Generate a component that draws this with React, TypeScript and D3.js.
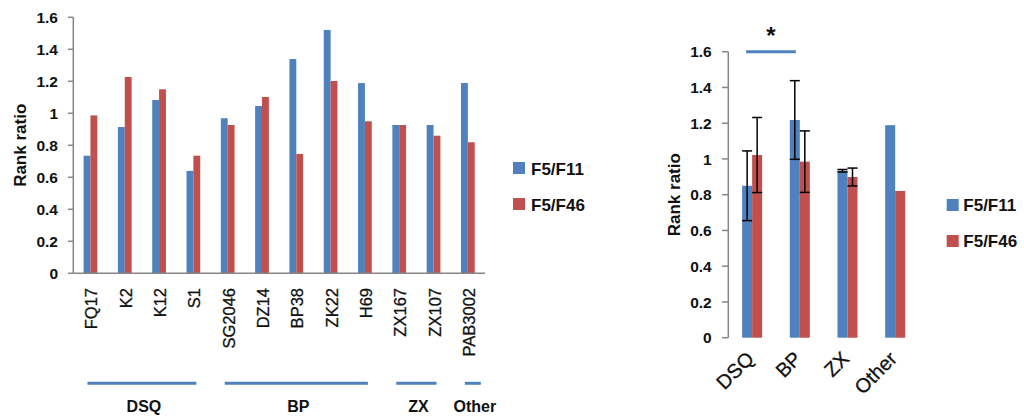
import React from "react";
import * as d3 from "d3";

const categoriesLeft = ["FQ17", "K2", "K12", "S1", "SG2046", "DZ14", "BP38", "ZK22", "H69", "ZX167", "ZX107", "PAB3002"];
const f11Left = [0.735, 0.914, 1.083, 0.64, 0.969, 1.046, 1.339, 1.521, 1.189, 0.927, 0.927, 1.189];
const f46Left = [0.987, 1.227, 1.15, 0.735, 0.927, 1.102, 0.746, 1.202, 0.95, 0.927, 0.86, 0.819];

const groupNames = ["DSQ", "BP", "ZX", "Other"];
const groupStart = [0, 4, 9, 11];
const groupEnd = [3, 8, 10, 11];

const categoriesRight = ["DSQ", "BP", "ZX", "Other"];
const f11Right = [0.85, 1.218, 0.934, 1.189];
const f11Err = [0.195, 0.22, 0.007, 0];
const f46Right = [1.022, 0.985, 0.899, 0.821];
const f46Err = [0.21, 0.172, 0.05, 0];

const yTicks = [0, 0.2, 0.4, 0.6, 0.8, 1, 1.2, 1.4, 1.6];
const seriesNames = ["F5/F11", "F5/F46"];
const sigPair = ["DSQ", "BP"];

const BLUE = "#4F81BD";
const RED = "#C0504D";
const AXIS = "#868686";
const FONT = "'Liberation Sans', Arial, sans-serif";

export default function App() {
  // Left chart scales
  const yL = d3.scaleLinear().domain([0, 1.6]).range([273.3, 17.3]);
  const xL = d3.scaleBand<string>().domain(categoriesLeft).range([73.3, 485]).paddingInner(0.6).paddingOuter(0.3);
  const xLs = d3.scaleBand<string>().domain(["a", "b"]).range([0, xL.bandwidth()]);

  // Right chart scales
  const yR = d3.scaleLinear().domain([0, 1.6]).range([337.7, 51.7]);
  const xR = d3.scaleBand<string>().domain(categoriesRight).range([728.3, 919]).paddingInner(0.58).paddingOuter(0.29);
  const xRs = d3.scaleBand<string>().domain(["a", "b"]).range([0, xR.bandwidth()]);

  const fmt = (v: number) => (v === 0 ? "0" : v === 1 ? "1" : d3.format(".1f")(v));

  const errBar = (x0: number, w: number, v: number, e: number, y: d3.ScaleLinear<number, number>, key: string) => {
    const cx = x0 + w / 2;
    return (
      <g key={key} stroke="#000" strokeWidth={1.5}>
        <line x1={cx} x2={cx} y1={y(v + e)} y2={y(v - e)} />
        <line x1={x0} x2={x0 + w} y1={y(v + e)} y2={y(v + e)} />
        <line x1={x0} x2={x0 + w} y1={y(v - e)} y2={y(v - e)} />
      </g>
    );
  };

  return (
    <svg width={1024} height={417} style={{ position: "absolute", left: 0, top: 0, background: "#fff" }} fontFamily={FONT}>
      {/* ===== Left chart ===== */}
      <g>
        <line x1={73.3} x2={73.3} y1={yL(1.6)} y2={yL(0)} stroke={AXIS} strokeWidth={1.5} />
        {yTicks.map((t) => (
          <g key={"lt" + t}>
            <line x1={68} x2={73.3} y1={yL(t)} y2={yL(t)} stroke={AXIS} strokeWidth={1.5} />
            <text x={58} y={yL(t)} dy="0.36em" textAnchor="end" fontSize={15.5} fontWeight="bold" fill="#111">
              {fmt(t)}
            </text>
          </g>
        ))}
        <text transform={`translate(26,${yL(0.8)}) rotate(-90)`} textAnchor="middle" fontSize={17} fontWeight="bold" fill="#111">
          Rank ratio
        </text>
        {categoriesLeft.map((c, i) => (
          <g key={"lb" + c}>
            <rect x={xL(c)! + xLs("a")!} y={yL(f11Left[i])} width={xLs.bandwidth()} height={yL(0) - yL(f11Left[i])} fill={BLUE} />
            <rect x={xL(c)! + xLs("b")!} y={yL(f46Left[i])} width={xLs.bandwidth()} height={yL(0) - yL(f46Left[i])} fill={RED} />
          </g>
        ))}
        <line x1={73.3} x2={485} y1={yL(0)} y2={yL(0)} stroke={AXIS} strokeWidth={1.5} />
        {categoriesLeft.map((c) => {
          const cx = xL(c)! + xL.bandwidth() / 2;
          return (
            <text key={"lx" + c} transform={`translate(${cx + 7},288) rotate(-90)`} textAnchor="end" fontSize={16.5} fill="#111" stroke="#111" strokeWidth={0.3}>
              {c}
            </text>
          );
        })}
        {groupNames.map((g, i) => {
          const x1 = xL(categoriesLeft[groupStart[i]])! + xL.bandwidth() / 2 - 3;
          const x2 = xL(categoriesLeft[groupEnd[i]])! + xL.bandwidth() / 2 + (i === 3 ? 13 : 3);
          return (
            <g key={"g" + g}>
              <line x1={x1} x2={x2} y1={383.3} y2={383.3} stroke={BLUE} strokeWidth={3} />
              <text x={(x1 + x2) / 2 + 2} y={412} textAnchor="middle" fontSize={16} fontWeight="bold" fill="#111">
                {g}
              </text>
            </g>
          );
        })}
        {seriesNames.map((s, i) => (
          <g key={"ll" + s}>
            <rect x={513} y={162 + i * 36} width={12} height={12} fill={i === 0 ? BLUE : RED} />
            <text x={531} y={175 + i * 36} fontSize={17} fontWeight="bold" fill="#111">
              {s}
            </text>
          </g>
        ))}
      </g>

      {/* ===== Right chart ===== */}
      <g>
        <line x1={728.3} x2={728.3} y1={yR(1.6)} y2={yR(0)} stroke={AXIS} strokeWidth={1.5} />
        {yTicks.map((t) => (
          <g key={"rt" + t}>
            <line x1={722} x2={728.3} y1={yR(t)} y2={yR(t)} stroke={AXIS} strokeWidth={1.5} />
            <text x={711.7} y={yR(t)} dy="0.36em" textAnchor="end" fontSize={15.5} fontWeight="bold" fill="#111">
              {fmt(t)}
            </text>
          </g>
        ))}
        <text transform={`translate(680,${yR(0.8)}) rotate(-90)`} textAnchor="middle" fontSize={17} fontWeight="bold" fill="#111">
          Rank ratio
        </text>
        {categoriesRight.map((c, i) => (
          <g key={"rb" + c}>
            <rect x={xR(c)! + xRs("a")!} y={yR(f11Right[i])} width={xRs.bandwidth()} height={yR(0) - yR(f11Right[i])} fill={BLUE} />
            <rect x={xR(c)! + xRs("b")!} y={yR(f46Right[i])} width={xRs.bandwidth()} height={yR(0) - yR(f46Right[i])} fill={RED} />
          </g>
        ))}
        {categoriesRight.map((c, i) => (
          <g key={"re" + c}>
            {f11Err[i] > 0 && errBar(xR(c)! + xRs("a")!, xRs.bandwidth(), f11Right[i], f11Err[i], yR, "ea" + c)}
            {f46Err[i] > 0 && errBar(xR(c)! + xRs("b")!, xRs.bandwidth(), f46Right[i], f46Err[i], yR, "eb" + c)}
          </g>
        ))}
        {categoriesRight.map((c) => {
          const cx = xR(c)! + xR.bandwidth() / 2;
          return (
            <text key={"rx" + c} transform={`translate(${cx + 3},360) rotate(-45)`} textAnchor="end" fontSize={20} fill="#111" stroke="#111" strokeWidth={0.3}>
              {c}
            </text>
          );
        })}
        {(() => {
          const x1 = xR(sigPair[0])! + 4;
          const x2 = xR(sigPair[1])! + xR.bandwidth() / 2 - 4;
          return (
            <g>
              <line x1={x1} x2={x2} y1={yR(1.6)} y2={yR(1.6)} stroke={BLUE} strokeWidth={3} />
              <text x={(x1 + x2) / 2} y={44} textAnchor="middle" fontSize={24} fontWeight="bold" fill="#111">
                *
              </text>
            </g>
          );
        })()}
        {seriesNames.map((s, i) => (
          <g key={"rl" + s}>
            <rect x={946.7} y={199 + i * 36} width={12} height={12} fill={i === 0 ? BLUE : RED} />
            <text x={963.3} y={211 + i * 36} fontSize={17} fontWeight="bold" fill="#111">
              {s}
            </text>
          </g>
        ))}
      </g>
    </svg>
  );
}
